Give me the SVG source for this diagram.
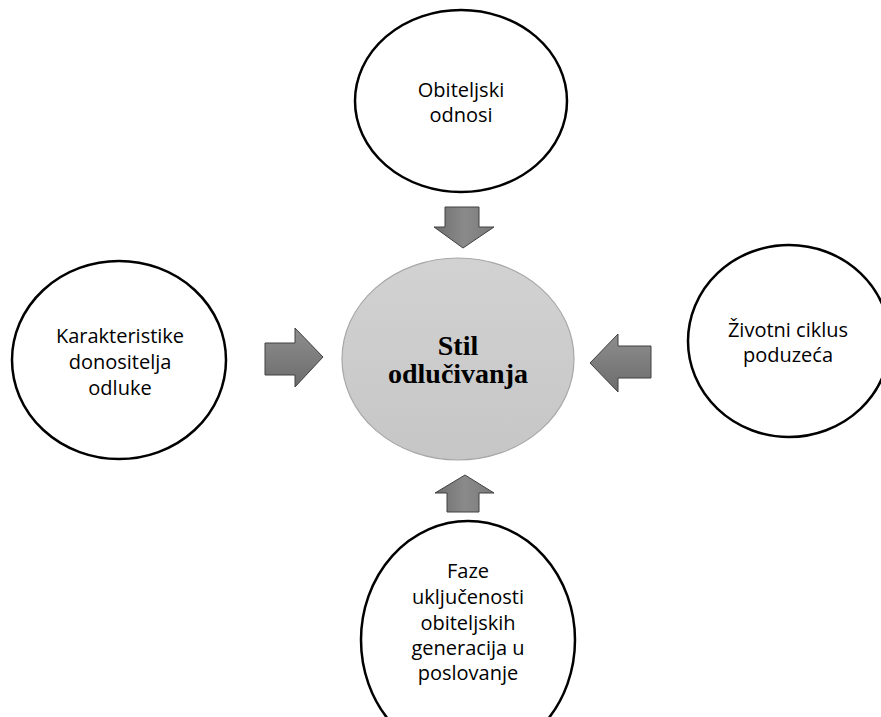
<svg xmlns="http://www.w3.org/2000/svg" width="881" height="717" viewBox="0 0 881 717">
<defs>
<linearGradient id="gArrowV" x1="0" y1="0" x2="1" y2="0">
<stop offset="0" stop-color="#6e6e6e"/><stop offset="0.5" stop-color="#8a8a8a"/><stop offset="1" stop-color="#7a7a7a"/>
</linearGradient>
<linearGradient id="gArrowH" x1="0" y1="0" x2="0" y2="1">
<stop offset="0" stop-color="#8e8e8e"/><stop offset="1" stop-color="#6c6c6c"/>
</linearGradient>
<linearGradient id="gCenter" x1="0" y1="0" x2="0" y2="1">
<stop offset="0" stop-color="#d2d2d2"/><stop offset="1" stop-color="#c6c6c6"/>
</linearGradient>
<style>
.node{fill:#fff;stroke:#000;stroke-width:2.5}
.lbl{font-family:"Open Sans","DejaVu Sans",sans-serif;font-size:20px;fill:#000;text-anchor:middle}
.center{fill:url(#gCenter);stroke:#a8a8a8;stroke-width:1.2}
.ctext{font-family:"Liberation Serif","Times New Roman",serif;font-weight:bold;font-size:28px;fill:#000;text-anchor:middle}
.av{fill:url(#gArrowV);stroke:#404040;stroke-width:1}
.ah{fill:url(#gArrowH);stroke:#404040;stroke-width:1}
</style>
</defs>
<rect width="881" height="717" fill="#fff"/>
<g id="connectors">
<polygon class="av" points="445,207 479,207 479,227 494,227 463,248 434,227 445,227"/>
<polygon class="ah" points="265,343 295,343 295,328 323,357 295,387 295,375 265,375"/>
<polygon class="ah" points="651,346 651,378 618,378 618,392 590,363 618,334 618,346"/>
<polygon class="av" points="447,512 479,512 479,493 494,493 465,475 435,493 447,493"/>
</g>
<g id="center">
<ellipse class="center" cx="458" cy="359" rx="116" ry="101"/>
<text class="ctext" x="458" y="355">Stil</text>
<text class="ctext" x="458" y="383">odlučivanja</text>
</g>
<g id="top">
<ellipse class="node" cx="461" cy="101" rx="106" ry="91"/>
<text class="lbl" x="461" y="97">Obiteljski</text>
<text class="lbl" x="461" y="122">odnosi</text>
</g>
<g id="left">
<ellipse class="node" cx="119" cy="360" rx="107" ry="99"/>
<text class="lbl" x="120" y="343">Karakteristike</text>
<text class="lbl" x="120" y="369">donositelja</text>
<text class="lbl" x="120" y="395">odluke</text>
</g>
<g id="right">
<ellipse class="node" cx="789" cy="341" rx="101" ry="96"/>
<text class="lbl" x="788" y="337">Životni ciklus</text>
<text class="lbl" x="788" y="362">poduzeća</text>
</g>
<g id="bottom">
<ellipse class="node" cx="468" cy="640" rx="107" ry="119"/>
<text class="lbl" x="468" y="578">Faze</text>
<text class="lbl" x="468" y="604">uključenosti</text>
<text class="lbl" x="468" y="630">obiteljskih</text>
<text class="lbl" x="468" y="655">generacija u</text>
<text class="lbl" x="468" y="680">poslovanje</text>
</g>
</svg>
